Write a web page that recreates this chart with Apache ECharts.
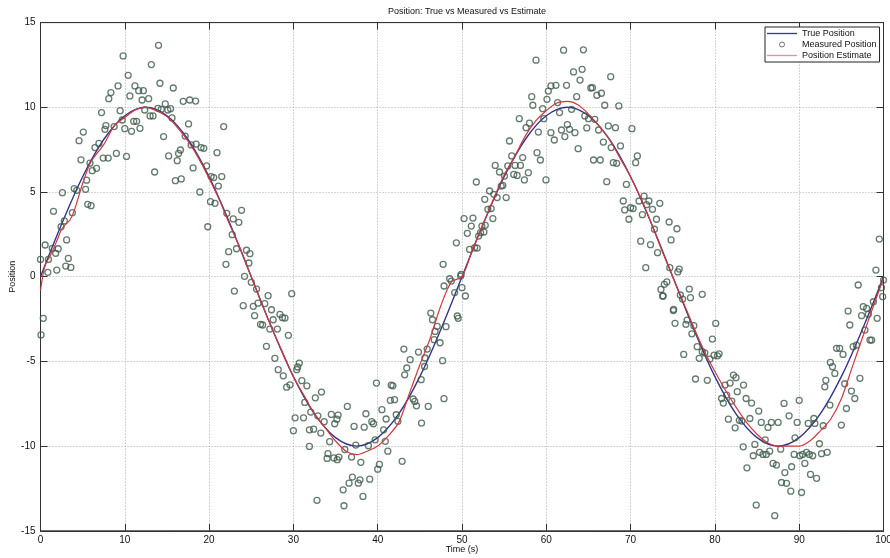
<!DOCTYPE html>
<html>
<head>
<meta charset="utf-8">
<script src="https://cdn.jsdelivr.net/npm/echarts@6/dist/echarts.min.js"></script>
<style>
html,body{margin:0;padding:0;background:#fff;}
#chart{width:890px;height:558px;}
</style>
</head>
<body>
<div id="chart"></div>
<script>
// ---------- DATA ----------
const chartTitle = 'Position: True vs Measured vs Estimate';
const xName = 'Time (s)';
const yName = 'Position';
const seriesNames = ['True Position', 'Measured Position', 'Position Estimate'];

const xMin = 0, xMax = 100, xStep = 10;
const yMin = -15, yMax = 15, yStep = 5;

const trueTime = [0,2.5,5,7.5,10,12.5,15,17.5,20,22.5,25,27.5,30,32.5,35,37.5,40,42.5,45,47.5,50,
  52.5,55,57.5,60,62.5,65,67.5,70,72.5,75,77.5,80,82.5,85,87.5,90,92.5,95,97.5,100];
const trueValues = [0,3.1,5.9,8.1,9.5,10,9.5,8.1,5.9,3.1,0,-3.1,-5.9,-8.1,-9.5,-10,-9.5,-8.1,-5.9,-3.1,0,
  3.1,5.9,8.1,9.5,10,9.5,8.1,5.9,3.1,0,-3.1,-5.9,-8.1,-9.5,-10,-9.5,-8.1,-5.9,-3.1,0];

const estTime = [0,0.5,1,1.5,2,2.5,3,3.5,4,5,6,7.5,8.75,10,11.25,12.5,13.75,15,16.25,17.5,18.75,20,21.25,22.5,23.75,25,
  26.25,27.5,28.75,30,31.25,32.5,33.75,35,36.25,37.5,38.75,40,41.25,42.5,43.75,45,46.25,47.5,48.75,50,
  51.25,52.5,53.75,55,56.25,57.5,58.75,60,61.25,62.5,63.75,65,66.25,67.5,68.75,70,71.25,72.5,73.75,75,
  76.25,77.5,78.75,80,81.25,82.5,83.75,85,86.25,87.5,88.75,90,91.25,92.5,93.75,95,96.25,97.5,98.75,100];
const estValues = [-0.8,0.6,1.1,1.6,2.2,2.8,3.1,3.35,3.9,5.5,6.8,7.8,8.9,9.4,9.85,10.0,9.8,9.45,8.8,8.0,7.0,5.8,4.5,3.0,1.6,0.0,
  -1.6,-3.1,-4.5,-5.9,-7.0,-8.1,-8.9,-9.7,-10.3,-10.5,-10.3,-10.0,-9.4,-8.6,-6.9,-5.2,-3.6,-1.7,-0.3,0.0,
  1.6,3.1,4.6,6.0,7.1,8.3,9.2,9.8,10.25,10.35,10.15,9.6,8.9,8.1,7.0,5.9,4.6,3.1,1.5,0.0,
  -1.5,-3.0,-4.4,-5.6,-6.7,-7.7,-8.6,-9.3,-9.8,-10.0,-10.0,-10.0,-9.7,-9.1,-8.4,-7.2,-5.4,-3.6,-1.8,-0.1];

const measured = [
 [0,1.02],[0.55,1.87],[0.94,1.02],[0.87,0.26],[1.54,3.86],[1.4,1.67],[1.8,1.38],[1.93,0.39],[2.1,1.65],[2.6,4.96],
 [2.44,2.95],[2.83,3.29],[3.1,2.17],[3.0,0.63],[3.3,1.08],[3.6,0.55],[3.78,3.78],[4.0,5.2],[4.3,5.1],[4.57,8.03],
 [4.8,6.9],[5.08,8.54],[5.35,5.16],[5.47,5.7],[5.6,4.27],[6.0,4.19],[5.87,6.7],[6.14,6.26],[6.46,7.62],[6.65,6.4],
 [6.93,7.87],[7.24,9.69],[7.44,7.0],[7.64,8.7],[7.76,8.92],[8.03,7.0],[8.1,10.51],[8.35,10.87],[8.74,8.86],[9.0,7.28],
 [9.2,11.26],[9.45,9.8],[9.7,9.25],[9.8,13.03],[10.0,8.74],[10.2,7.1],[10.4,11.89],[10.6,10.67],[10.8,8.58],[11.06,9.17],
 [11.2,11.26],[11.4,9.17],[11.65,10.98],[11.8,8.76],[12.05,10.43],[12.2,10.98],[12.36,9.84],[12.83,10.51],[13.0,9.49],[13.15,12.52],
 [13.35,9.49],[13.54,6.18],[13.94,9.94],[14.0,13.66],[14.17,11.42],[14.33,9.88],[14.6,8.27],[14.8,10.2],[15.1,9.84],[15.2,7.13],
 [15.43,9.92],[15.6,9.37],[15.75,11.14],[16.0,5.67],[16.22,6.85],[16.38,7.28],[16.6,7.48],[16.7,5.77],[16.93,10.35],[17.16,8.3],
 [17.56,9.02],[17.7,10.43],[17.87,7.78],[18.1,6.42],[18.4,10.37],[18.46,7.83],[18.9,5.0],[19.05,7.62],[19.37,7.58],[19.7,6.54],
 [19.84,2.95],[20.16,4.43],[20.24,5.91],[20.55,5.85],[20.7,4.33],[20.94,7.32],[21.1,5.35],[21.5,5.91],[21.73,8.86],[22.0,0.73],
 [22.1,3.74],[22.32,1.48],[0.33,-2.46],[0.06,-3.44],
 [22.74,2.48],[22.86,3.41],[23.53,3.21],[23.85,3.92],[23.25,1.65],[24.44,1.56],[24.72,0.81],[24.84,1.36],[24.2,0.02],[23.0,-0.85],
 [25.0,-0.33],[25.63,-0.73],[24.05,-1.71],[25.24,-1.75],[25.4,-2.3],[25.8,-1.56],[26.6,-1.59],[27.0,-1.12],[26.1,-2.81],[26.35,-2.85],
 [27.4,-1.95],[27.6,-2.54],[27.2,-3.09],[28.1,-3.09],[28.4,-2.22],[28.7,-2.42],[29.0,-2.44],[26.8,-4.11],[29.4,-3.46],[29.8,-1.0],
 [27.8,-4.82],[28.2,-5.49],[28.8,-5.85],[29.2,-6.52],[29.6,-6.38],[30.5,-5.33],[30.7,-5.1],[30.4,-5.49],[31.0,-6.14],[31.6,-6.44],
 [31.35,-7.42],[30.2,-8.33],[31.2,-8.33],[30.0,-9.09],[32.06,-7.99],[31.9,-9.04],[32.4,-9.0],[32.6,-7.15],[33.33,-6.81],[32.9,-8.21],
 [33.25,-9.23],[33.65,-8.56],[31.9,-10.02],[34.3,-9.74],[34.5,-8.13],[34.9,-8.68],[35.16,-8.41],[35.3,-8.17],[34.1,-10.45],[34.0,-10.73],
 [34.8,-10.7],[35.2,-10.8],[35.4,-10.65],[32.8,-13.2],[36.4,-7.66],[36.1,-10.2],[36.9,-10.65],[35.9,-12.58],[36.0,-13.52],[36.6,-12.19],
 [37.0,-11.83],[37.2,-8.84],[37.4,-9.94],[37.7,-12.19],[37.9,-11.99],[38.0,-10.96],[38.25,-12.97],[38.4,-8.88],[38.6,-8.09],[38.9,-9.98],
 [39.05,-11.95],[39.3,-8.56],[39.5,-8.68],[39.7,-9.63],[39.85,-6.28],[40.0,-11.36],[40.2,-11.08],[40.5,-7.85],[40.7,-9.04],[40.9,-9.72],
 [41.2,-10.3],[41.0,-8.4],[41.6,-6.4],[41.8,-6.44],[41.5,-7.3],[42.0,-7.26],[42.2,-8.15],[42.4,-8.54],[42.9,-10.9],[43.1,-4.27],
 [43.2,-5.79],[43.45,-5.39],[43.85,-4.9],[44.2,-7.22],[44.4,-7.36],[44.6,-7.62],[44.84,-4.45],[45.16,-6.08],[45.2,-8.64],[45.56,-5.3],
 [45.6,-4.8],[45.87,-4.27],[46.0,-7.66],[46.3,-2.15],[46.5,-2.54],[46.7,-3.72],[46.8,-3.23],[47.06,-2.93],
 [47.4,-3.9],[48.1,-2.95],[47.7,-4.96],[47.86,-7.2],[49.44,-2.32],[49.55,-2.46],
 [47.76,0.73],[47.87,-0.55],[48.54,-0.12],[48.74,-0.26],[49.13,-0.94],[49.33,2.0],[49.84,0.04],[50.0,-0.65],[50.4,-1.14],[49.9,0.14],
 [50.24,3.43],[50.63,2.56],[50.9,1.61],[51.1,2.99],[51.3,3.46],[51.5,1.71],[51.8,1.69],[51.7,5.59],[51.97,2.4],[52.2,2.6],
 [52.36,2.99],[52.6,2.64],[52.76,3.03],[52.7,4.57],[53.07,3.98],[53.27,5.06],[53.46,4.02],[53.66,3.43],[53.78,4.86],[53.94,6.57],
 [54.17,4.67],[54.45,6.18],[54.65,5.35],[54.84,5.39],[55.04,5.94],[55.24,4.67],[55.43,6.54],[55.63,8.01],[55.9,7.13],[56.14,6.04],
 [56.3,6.57],[56.54,5.98],[56.8,9.33],[56.93,6.57],[57.2,7.03],[57.4,5.71],[57.6,8.8],[57.87,6.14],[58.0,9.06],[58.27,10.63],
 [58.4,10.12],[58.78,12.78],[58.9,7.32],[59.06,8.54],[59.3,6.89],[59.57,9.92],[59.7,9.33],[59.96,5.71],[60.08,10.47],[60.24,10.96],
 [60.55,11.26],[60.55,8.5],[60.95,8.07],[61.14,11.3],[61.34,10.28],[61.57,9.69],[61.8,8.66],[62.05,13.37],[62.2,8.27],[62.4,11.3],
 [62.5,8.98],[62.76,8.7],[63.0,9.88],[63.23,12.09],[63.4,8.5],[63.6,10.63],[63.78,7.56],[64.0,11.61],[64.25,12.24],[64.4,13.39],
 [64.57,9.49],[64.8,8.78],[65.0,9.33],[65.28,11.14],[65.47,11.16],[65.6,6.89],[65.75,9.29],[66.0,10.71],[66.2,8.66],[66.4,6.89],
 [66.54,10.83],[66.77,7.95],[66.93,10.12],[67.17,5.61],[67.36,8.9],[67.64,11.81],[67.7,7.62],[67.95,6.73],[68.2,8.8],[68.35,6.69],
 [68.6,10.08],[68.8,7.72],[69.13,4.47],[69.3,3.94],[69.5,5.45],[69.8,3.39],[70.0,4.07],[70.16,8.74],[70.3,4.02],[70.6,6.73],
 [70.8,7.13],[71.0,4.47],[71.2,2.1],[71.4,3.66],[71.6,4.76],[71.8,0.53],[71.9,4.25],[72.17,4.47],[72.36,1.89],[72.6,3.98],
 [72.83,2.8],[73.07,3.39],[73.2,1.42],[73.46,4.33],[73.6,-0.75],[73.86,-1.14],[74.0,-0.45],[74.3,-0.31],[74.57,3.23],[74.65,0.53],
 [74.8,2.17],[75.1,-1.93],[75.5,2.83],[75.6,0.28],[73.8,-1.14],[75.07,-2.0],[75.27,-2.75],
 [75.77,0.45],[75.9,-1.08],[76.17,-1.32],[76.96,-0.73],[77.1,-1.24],[78.5,-1.04],[76.56,-2.81],[76.7,-2.56],[77.5,-2.89],[77.27,-3.37],
 [76.3,-4.59],[77.9,-4.13],[78.14,-4.82],[78.5,-4.43],[78.8,-4.5],[77.7,-6.04],[79.1,-6.12],[79.4,-4.86],[79.7,-3.68],[80.1,-2.76],
 [79.9,-4.63],[80.3,-4.67],[80.5,-4.55],[80.8,-7.19],[81.0,-7.46],[81.2,-6.4],[81.4,-6.99],[81.6,-8.41],[81.8,-6.28],[82.0,-7.34],
 [82.2,-5.81],[82.5,-5.96],[82.4,-8.92],[82.65,-6.79],[82.9,-8.48],[83.2,-8.52],[83.4,-6.4],[83.36,-10.04],[83.7,-7.19],[83.8,-11.28],
 [84.15,-8.37],[84.35,-7.46],[84.55,-10.57],[84.74,-9.9],[84.9,-13.48],[85.2,-7.93],[85.3,-10.37],[85.5,-8.6],[85.7,-10.49],[85.97,-9.63],
 [86.1,-10.49],[86.3,-8.9],[86.5,-10.3],[86.7,-8.6],[86.9,-11.02],[87.1,-14.11],[87.3,-11.12],[87.5,-8.6],[87.8,-10.18],[87.9,-12.15],
 [88.2,-7.48],[88.3,-11.56],[88.5,-12.2],[88.8,-8.21],[89.0,-12.66],[89.1,-11.22],[89.4,-10.49],[89.5,-9.51],[89.76,-8.6],[90.0,-7.3],
 [90.08,-10.57],[90.28,-12.74],[90.4,-10.49],[90.67,-11.02],[90.87,-10.37],[91.07,-8.66],[91.2,-10.49],[91.34,-11.67],[91.6,-10.57],[91.74,-8.37],
 [91.86,-8.66],[92.06,-11.9],[92.4,-9.86],[92.65,-10.45],[92.85,-8.8],[93.04,-6.5],[93.32,-10.37],[93.16,-6.12],[93.64,-7.58],[93.7,-5.06],
 [93.95,-5.31],[94.23,-5.71],[94.43,-4.23],[94.8,-4.23],[95.0,-8.76],[95.2,-4.59],[95.4,-6.32],[95.6,-7.78],[95.8,-2.03],[96.0,-2.85],
 [96.2,-6.75],[96.4,-4.13],[96.6,-7.19],[96.8,-4.04],[97.0,-0.49],[97.2,-6.0],[97.4,-2.3],[97.6,-1.77],[97.8,-3.15],[98.0,-1.87],
 [98.2,-2.22],[98.4,-3.74],[98.6,-3.74],[98.8,-1.48],[99.1,0.39],[99.25,-2.46],[99.5,2.22],[99.76,-0.65],[99.9,-1.18],[100,-0.2]
];

// ---------- CHART ----------
const FONT = '"Liberation Sans", Arial, Helvetica, sans-serif';
const chart = echarts.init(document.getElementById('chart'), null, {renderer: 'canvas'});

function zip(a, b) { return a.map((v, i) => [v, b[i]]); }

const frameColor = '#333';
const trueColor = '#33348c';
const estColor = '#d0383e';
const markColor = '#3d5a4a';
const gridLine = {show: true, lineStyle: {color: '#aaa', type: [1, 2], width: 1}};
const tick = {show: true, inside: true, length: 7, lineStyle: {color: frameColor}};
const lineIcon = 'path://M0,0L30,0L30,1.3L0,1.3Z';

const option = {
  backgroundColor: '#fff',
  animation: false,
  textStyle: {fontFamily: FONT},
  title: {
    text: chartTitle,
    left: 462, top: 2, textAlign: 'center',
    textStyle: {fontSize: 9, fontWeight: 'normal', color: '#111', fontFamily: FONT}
  },
  legend: {
    orient: 'vertical',
    left: 765, top: 27,
    itemWidth: 30, itemHeight: 5, itemGap: 0,
    padding: [1, 3, 1, 2],
    borderColor: '#222', borderWidth: 1, backgroundColor: '#fff',
    textStyle: {fontSize: 9, color: '#111', fontFamily: FONT, lineHeight: 11},
    data: [
      {name: seriesNames[0], icon: lineIcon, itemStyle: {color: trueColor, borderWidth: 0}},
      {name: seriesNames[1], icon: 'circle', itemStyle: {color: 'rgba(0,0,0,0)', borderColor: markColor, borderWidth: 1}},
      {name: seriesNames[2], icon: lineIcon, itemStyle: {color: '#e4909a', borderWidth: 0}}
    ]
  },
  grid: {left: 40.5, right: 6.5, top: 22.6, bottom: 27.2, containLabel: false, outerBoundsMode: 'none',
         show: true, borderColor: frameColor, borderWidth: 1},
  xAxis: [{
    type: 'value', min: xMin, max: xMax, interval: xStep,
    name: xName, nameLocation: 'middle', nameGap: 14, nameMoveOverlap: false,
    nameTextStyle: {fontSize: 9, color: '#111', fontFamily: FONT},
    axisLine: {show: true, onZero: false, lineStyle: {color: frameColor}},
    axisTick: tick,
    axisLabel: {fontSize: 10, color: '#111', margin: 4, fontFamily: FONT},
    splitLine: gridLine
  }, {
    type: 'value', min: xMin, max: xMax, interval: xStep, position: 'top',
    axisLine: {show: true, onZero: false, lineStyle: {color: frameColor}},
    axisTick: tick, axisLabel: {show: false}, splitLine: {show: false}
  }],
  yAxis: [{
    type: 'value', min: yMin, max: yMax, interval: yStep,
    name: yName, nameLocation: 'middle', nameGap: 23, nameMoveOverlap: false,
    nameTextStyle: {fontSize: 9, color: '#111', fontFamily: FONT},
    axisLine: {show: true, onZero: false, lineStyle: {color: frameColor}},
    axisTick: tick,
    axisLabel: {fontSize: 10, color: '#111', margin: 5, fontFamily: FONT},
    splitLine: gridLine
  }, {
    type: 'value', min: yMin, max: yMax, interval: yStep, position: 'right',
    axisLine: {show: true, onZero: false, lineStyle: {color: frameColor}},
    axisTick: tick, axisLabel: {show: false}, splitLine: {show: false}
  }],
  series: [{
    name: seriesNames[0], type: 'line', data: zip(trueTime, trueValues),
    smooth: 0.35, symbol: 'none', lineStyle: {color: trueColor, width: 1.4},
    itemStyle: {color: trueColor}, z: 2
  }, {
    name: seriesNames[1], type: 'scatter', data: measured,
    symbol: 'circle', symbolSize: 6,
    itemStyle: {color: 'rgba(0,0,0,0)', borderColor: markColor, borderWidth: 1.3}, z: 3
  }, {
    name: seriesNames[2], type: 'line', data: zip(estTime, estValues),
    smooth: 0.3, symbol: 'none', lineStyle: {color: estColor, width: 1.2},
    itemStyle: {color: estColor}, z: 4
  }]
};
chart.setOption(option);
</script>
</body>
</html>
